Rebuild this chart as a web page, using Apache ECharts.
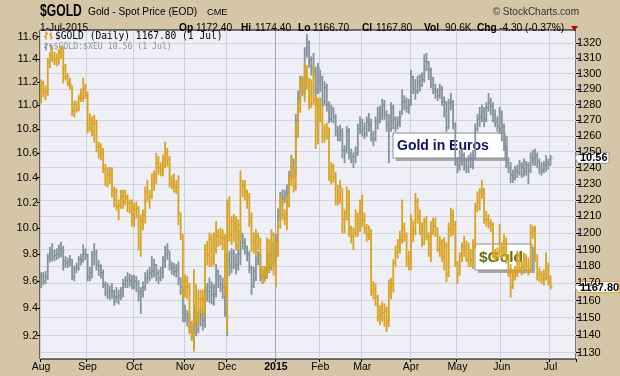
<!DOCTYPE html>
<html>
<head>
<meta charset="utf-8">
<script src="https://cdn.jsdelivr.net/npm/echarts@6/dist/echarts.min.js"></script>
<style>
  html, body { margin: 0; padding: 0; background: #D6C6A8; }
  #chart { width: 620px; height: 376px; }
</style>
</head>
<body>
<div id="chart"></div>
<script>
// trading days Aug 1 2014 .. Jul 1 2015 (weekdays minus US holidays)
const holidays = ["2014-09-01", "2014-11-27", "2014-12-25", "2015-01-01", "2015-01-19", "2015-02-16", "2015-04-03", "2015-05-25"];
const monthNames = ["Jan", "Feb", "Mar", "Apr", "May", "Jun", "Jul", "Aug", "Sep", "Oct", "Nov", "Dec"];

// $GOLD daily high / low / close (USD)
const goldHigh = [
  1296,1295,1292,1310,1314,1318,1314,1313,1316,1318,1317,1306,1300,1297,1292,1282,1282,1286,1290,1297,1293,
  1288,1274,1272,1273,1270,1256,1255,1252,1242,1240,1240,1240,1228,1227,1220,1226,1226,1226,1223,1220,1220,
  1218,1219,1216,1211,1214,1228,1232,1226,1236,1238,1249,1247,1243,1248,1256,1252,1247,1235,1236,1232,1235,1212,1199,
  1175,1174,1170,1148,1178,1169,1166,1166,1166,1193,1195,1200,1199,1200,1207,1202,1203,1202,1199,
  1220,1222,1210,1211,1210,1208,1238,1232,1232,1226,1224,1212,1200,1202,1200,1197,1180,1180,1197,1196,1202,1200,
  1195,1207,1223,1220,1214,1223,1235,1247,1240,1267,1282,1296,1298,1307,1305,1297,1296,1305,1285,1284,
  1284,1278,1267,1268,1265,1243,1242,1237,1229,1232,1227,1214,1228,1226,1204,1203,1214,1212,1220,
  1223,1212,1205,1204,1202,1171,1170,1163,1157,1159,1158,1156,1172,1173,1184,1192,1196,1201,1220,1206,1200,1189,
  1211,1207,1224,1221,1214,1206,1209,1210,1200,1207,1209,1209,1203,1198,1196,1197,1194,1206,1215,1214,1207,
  1183,1188,1194,1198,1195,1194,1190,1196,1218,1225,1227,1232,1227,1213,1211,1208,1206,1190,1191,1205,
  1194,1199,1197,1187,1181,1177,1180,1189,1188,1183,1188,1187,1185,1205,1204,1204,1187,1179,1177,1178,1188,1182,
  1174.4
];
const goldLow = [
  1281,1285,1283,1286,1304,1308,1306,1305,1306,1310,1294,1296,1292,1290,1273,1272,1275,1276,1282,1282,1284,
  1262,1263,1260,1256,1250,1246,1245,1237,1229,1228,1230,1222,1216,1214,1208,1215,1215,1217,1213,1212,1204,
  1204,1209,1190,1186,1202,1206,1219,1215,1221,1226,1230,1236,1235,1235,1240,1241,1228,1227,1225,1224,1205,1196,1161,
  1162,1161,1141,1137,1131,1147,1146,1153,1150,1153,1181,1180,1180,1181,1188,1192,1193,1190,1163,
  1142,1195,1193,1195,1190,1190,1195,1222,1220,1215,1204,1189,1188,1186,1190,1175,1170,1171,1173,1177,1180,1175,
  1168,1186,1203,1208,1205,1202,1216,1229,1225,1226,1259,1275,1287,1282,1290,1277,1278,1280,1252,1255,
  1269,1256,1256,1258,1232,1230,1231,1217,1217,1218,1200,1200,1208,1198,1194,1190,1198,1198,1201,
  1204,1200,1195,1196,1163,1161,1157,1148,1146,1148,1145,1142,1145,1161,1165,1180,1185,1188,1194,1195,1180,1178,
  1178,1195,1199,1206,1199,1192,1193,1196,1186,1183,1199,1198,1189,1186,1183,1178,1171,1174,1198,1199,1180,
  1170,1175,1183,1186,1183,1180,1180,1179,1191,1213,1214,1221,1206,1204,1203,1201,1185,1183,1185,1186,
  1185,1186,1182,1174,1162,1167,1172,1174,1177,1175,1176,1178,1175,1177,1197,1183,1172,1171,1170,1169,1172,1169,
  1166.7
];
const goldClose = [
  1294,1288,1288,1307,1312,1310,1309,1310,1314,1315,1305,1298,1294,1293,1276,1280,1277,1284,1284,1290,1286,
  1265,1270,1263,1268,1253,1253,1249,1239,1231,1235,1236,1226,1225,1216,1217,1222,1219,1222,1218,1218,1211,
  1214,1215,1192,1207,1211,1225,1222,1222,1230,1234,1243,1240,1238,1245,1249,1245,1230,1231,1228,1228,1212,1198,1171,
  1168,1168,1145,1142,1169,1150,1161,1161,1161,1187,1187,1197,1185,1190,1198,1198,1197,1197,1167,
  1217,1199,1207,1206,1192,1205,1232,1229,1225,1222,1207,1195,1194,1198,1195,1178,1175,1173,1195,1181,1199,1184,
  1186,1204,1219,1211,1209,1216,1233,1234,1229,1264,1277,1294,1294,1301,1293,1280,1292,1283,1260,1279,
  1274,1260,1263,1265,1234,1241,1234,1220,1223,1228,1208,1212,1225,1203,1198,1200,1210,1206,1213,
  1208,1203,1199,1199,1165,1167,1162,1151,1152,1153,1154,1148,1167,1169,1182,1188,1192,1196,1203,1198,1185,1183,
  1208,1201,1219,1210,1203,1194,1207,1198,1193,1200,1204,1203,1190,1194,1186,1193,1175,1202,1211,1205,1182,
  1175,1186,1192,1192,1184,1188,1184,1192,1216,1219,1225,1226,1208,1208,1206,1205,1187,1186,1188,1189,
  1191,1194,1184,1176,1168,1174,1176,1186,1179,1180,1185,1180,1178,1200,1201,1185,1176,1175,1172,1173,1179,1171,
  1167.8
];

// $GOLD:$XEU (gold in euros) daily high / low / close
const eurHigh = [
  9.66,9.66,9.67,9.80,9.85,9.88,9.83,9.84,9.87,9.89,9.86,9.78,9.77,9.79,9.76,9.71,9.73,9.78,9.80,9.87,9.84,
  9.80,9.70,9.82,9.88,9.83,9.75,9.72,9.68,9.59,9.58,9.56,9.58,9.53,9.55,9.53,9.55,9.61,9.63,9.66,9.65,9.64,
  9.64,9.63,9.60,9.55,9.59,9.66,9.68,9.70,9.78,9.76,9.72,9.68,9.70,9.78,9.86,9.88,9.82,9.74,9.73,9.72,9.74,9.62,9.55,
  9.42,9.38,9.36,9.28,9.42,9.38,9.37,9.40,9.38,9.55,9.58,9.62,9.59,9.57,9.72,9.68,9.64,9.62,9.56,
  9.80,9.82,9.84,9.83,9.80,9.83,9.98,9.96,9.92,9.86,9.82,9.71,9.70,9.78,9.82,9.80,9.68,9.70,9.82,9.80,9.89,9.90,
  9.95,10.15,10.28,10.30,10.30,10.34,10.45,10.58,10.55,10.92,11.12,11.25,11.24,11.50,11.62,11.56,11.42,11.45,11.33,11.36,
  11.30,11.25,11.20,11.18,11.03,11.00,10.98,10.92,10.82,10.83,10.80,10.66,10.82,10.80,10.63,10.60,10.65,10.84,10.90,
  10.88,10.85,10.90,10.93,10.88,10.78,10.90,10.98,10.99,11.05,11.04,10.95,10.92,11.02,11.00,10.90,10.90,10.95,11.13,11.08,11.06,11.05,
  11.30,11.25,11.22,11.25,11.26,11.28,11.44,11.45,11.38,11.32,11.24,11.18,11.14,11.18,11.16,11.07,11.03,11.05,11.10,11.04,10.85,
  10.56,10.62,10.63,10.60,10.55,10.58,10.60,10.62,10.84,10.92,10.98,11.00,10.98,11.02,11.10,11.06,11.02,10.96,10.90,10.98,
  10.95,10.84,10.66,10.56,10.52,10.46,10.49,10.50,10.54,10.52,10.55,10.53,10.52,10.60,10.62,10.63,10.60,10.55,10.52,10.53,10.58,10.55,
  10.58
];
const eurLow = [
  9.55,9.57,9.58,9.61,9.74,9.75,9.75,9.76,9.77,9.78,9.68,9.70,9.70,9.71,9.61,9.60,9.66,9.68,9.72,9.74,9.76,
  9.60,9.60,9.62,9.72,9.68,9.64,9.62,9.55,9.49,9.47,9.46,9.47,9.42,9.44,9.43,9.46,9.48,9.55,9.55,9.56,9.54,
  9.54,9.52,9.45,9.36,9.48,9.53,9.58,9.60,9.62,9.63,9.60,9.58,9.60,9.62,9.70,9.76,9.68,9.65,9.64,9.63,9.57,9.50,9.30,
  9.30,9.27,9.22,9.17,9.12,9.20,9.22,9.27,9.24,9.26,9.45,9.44,9.43,9.42,9.48,9.55,9.52,9.47,9.34,
  9.20,9.64,9.66,9.69,9.65,9.68,9.72,9.84,9.80,9.75,9.66,9.50,9.55,9.60,9.72,9.60,9.58,9.61,9.62,9.66,9.68,9.72,
  9.75,9.90,10.08,10.18,10.20,10.17,10.27,10.40,10.40,10.42,10.85,11.02,11.08,11.10,11.42,11.33,11.26,11.24,11.00,11.10,
  11.12,10.98,11.00,10.95,10.85,10.86,10.85,10.74,10.70,10.70,10.56,10.52,10.60,10.55,10.52,10.48,10.52,10.58,10.76,
  10.74,10.72,10.74,10.78,10.70,10.66,10.70,10.80,10.85,10.88,10.88,10.78,10.52,10.78,10.80,10.78,10.80,10.82,10.92,10.96,10.94,10.93,
  11.00,11.10,11.05,11.10,11.12,11.16,11.20,11.30,11.22,11.15,11.10,11.06,11.04,11.06,11.00,10.90,10.78,10.80,10.96,10.80,10.50,
  10.44,10.46,10.50,10.46,10.44,10.44,10.48,10.47,10.56,10.78,10.82,10.86,10.82,10.86,10.95,10.92,10.86,10.82,10.78,10.76,
  10.70,10.62,10.48,10.44,10.36,10.36,10.38,10.40,10.42,10.40,10.41,10.42,10.35,10.44,10.50,10.50,10.48,10.43,10.42,10.44,10.45,10.47,
  10.50
];
const eurClose = [
  9.64,9.60,9.63,9.78,9.81,9.78,9.79,9.80,9.84,9.82,9.75,9.73,9.74,9.76,9.63,9.69,9.70,9.76,9.75,9.80,9.79,
  9.63,9.66,9.76,9.80,9.71,9.71,9.66,9.57,9.51,9.53,9.52,9.52,9.48,9.48,9.49,9.50,9.58,9.60,9.62,9.60,9.59,
  9.60,9.58,9.52,9.50,9.55,9.62,9.63,9.66,9.67,9.72,9.66,9.62,9.66,9.75,9.80,9.83,9.72,9.70,9.67,9.68,9.62,9.55,9.37,
  9.35,9.31,9.26,9.23,9.37,9.24,9.33,9.35,9.31,9.52,9.52,9.55,9.50,9.50,9.67,9.63,9.57,9.55,9.37,
  9.76,9.71,9.80,9.72,9.72,9.80,9.93,9.89,9.86,9.80,9.70,9.56,9.67,9.75,9.79,9.63,9.64,9.63,9.79,9.70,9.86,9.79,
  9.90,10.10,10.25,10.23,10.26,10.27,10.42,10.48,10.45,10.87,11.05,11.20,11.12,11.45,11.54,11.39,11.32,11.30,11.14,11.32,
  11.24,11.03,11.15,11.00,10.88,10.96,10.90,10.78,10.76,10.78,10.62,10.62,10.78,10.60,10.57,10.57,10.60,10.80,10.85,
  10.80,10.76,10.86,10.83,10.72,10.72,10.85,10.93,10.91,11.00,10.92,10.83,10.80,10.98,10.88,10.83,10.85,10.90,11.03,11.03,10.98,11.00,
  11.24,11.14,11.12,11.20,11.17,11.22,11.38,11.37,11.30,11.22,11.14,11.12,11.08,11.14,11.03,11.02,10.81,11.02,11.03,10.84,10.53,
  10.50,10.56,10.58,10.50,10.48,10.55,10.56,10.55,10.80,10.88,10.90,10.95,10.88,10.98,11.02,11.00,10.92,10.86,10.82,10.80,
  10.82,10.68,10.52,10.48,10.42,10.40,10.45,10.44,10.50,10.48,10.45,10.50,10.46,10.56,10.55,10.58,10.53,10.48,10.46,10.50,10.52,10.50,
  10.56
];

// axis ticks (both axes are logarithmic)
const eurTicks = [9.2, 9.4, 9.6, 9.8, 10.0, 10.2, 10.4, 10.6, 10.8, 11.0, 11.2, 11.4, 11.6];
const goldTicks = [1130, 1140, 1150, 1160, 1170, 1180, 1190, 1200, 1210, 1220, 1230, 1240, 1250, 1260, 1270, 1280, 1290, 1300, 1310, 1320];
const eurRange = [9.035, 11.66];
const goldRange = [1126.4, 1328.8];
const padDays = 11;

const days = [];
for (let d = new Date(Date.UTC(2014, 7, 1)); d <= new Date(Date.UTC(2015, 6, 1)); d.setUTCDate(d.getUTCDate() + 1)) {
  const wd = d.getUTCDay();
  const s = d.toISOString().slice(0, 10);
  if (wd === 0 || wd === 6 || holidays.includes(s)) continue;
  days.push(s);
}
const categories = days.concat(Array.from({ length: padDays }, (_, i) => "pad" + i));
const monthStart = new Set();
days.forEach((d, i) => {
  if (i === 0 || d.slice(0, 7) !== days[i - 1].slice(0, 7)) monthStart.add(i);
});
const isMonthStart = (index) => monthStart.has(index);

const toBars = (lo, hi, cl) =>
  days.map((d, i) => [i, Math.log(lo[i]), Math.log(hi[i]), Math.log(cl[i])]);

const ohlcRenderer = (color) => (params, api) => {
  const i = api.value(0);
  const lo = api.coord([i, api.value(1)]);
  const hi = api.coord([i, api.value(2)]);
  const cl = api.coord([i, api.value(3)]);
  return {
    type: "group",
    children: [
      { type: "line", shape: { x1: lo[0], y1: lo[1] + 0.5, x2: hi[0], y2: hi[1] - 0.5 }, style: { stroke: color, lineWidth: 1.8 } },
      { type: "line", shape: { x1: cl[0], y1: cl[1], x2: cl[0] + 2, y2: cl[1] }, style: { stroke: color, lineWidth: 1.3 } }
    ]
  };
};

const goldColor = "#D9A21F";
const eurColor = "#84939B";
const sans = "Liberation Sans, Arial, sans-serif";
const mono = "DejaVu Sans Mono, monospace";

// vertical grid colours per month line, Jan (2015) darker
const vColors = ["#CFCFD8", "#CFCFD8", "#CFCFD8", "#CFCFD8", "#CFCFD8", "#A9A9AF", "#CFCFD8", "#CFCFD8", "#CFCFD8", "#CFCFD8", "#CFCFD8", "#CFCFD8", "#CFCFD8"];

const option = {
  animation: false,
  backgroundColor: "#D6C6A8",
  grid: {
    left: 40, right: 44, top: 30, bottom: 17,
    show: true, backgroundColor: "#EEEFF7", borderColor: "#000", borderWidth: 1
  },
  xAxis: {
    type: "category",
    data: categories,
    boundaryGap: true,
    axisLine: { show: false },
    axisTick: { show: true, interval: isMonthStart, length: 3, lineStyle: { color: "#000" } },
    axisLabel: {
      interval: isMonthStart,
      margin: 3,
      color: "#000",
      fontSize: 10.5,
      fontFamily: sans,
      formatter: (v) => {
        const m = Number(v.slice(5, 7)) - 1;
        return m === 0 ? "{b|2015}" : monthNames[m];
      },
      rich: { b: { fontWeight: "bold", fontSize: 10.5, fontFamily: sans, color: "#000" } }
    },
    splitLine: { show: true, interval: isMonthStart, lineStyle: { color: vColors, width: 1 } }
  },
  yAxis: [
    {
      type: "value",
      position: "left",
      min: Math.log(eurRange[0]),
      max: Math.log(eurRange[1]),
      axisLine: { show: false },
      axisTick: { show: true, customValues: eurTicks.map(Math.log), length: 3, lineStyle: { color: "#000" } },
      axisLabel: {
        customValues: eurTicks.map(Math.log),
        formatter: (v) => Math.exp(v).toFixed(1),
        margin: 2, color: "#000", fontSize: 11, fontFamily: sans
      },
      splitLine: { show: false }
    },
    {
      type: "value",
      position: "right",
      min: Math.log(goldRange[0]),
      max: Math.log(goldRange[1]),
      axisLine: { show: false },
      axisTick: { show: true, customValues: goldTicks.map(Math.log), length: 4, lineStyle: { color: "#000" } },
      axisLabel: {
        customValues: goldTicks.map(Math.log),
        formatter: (v) => String(Math.round(Math.exp(v))),
        margin: 1, color: "#000", fontSize: 11, fontFamily: sans
      },
      splitLine: { show: true, lineStyle: { color: "#D4D4DC", width: 1 } }
    }
  ],
  series: [
    {
      name: "$GOLD:$XEU",
      type: "custom",
      yAxisIndex: 0,
      clip: true,
      encode: { x: 0, y: [1, 2, 3] },
      renderItem: ohlcRenderer(eurColor),
      data: toBars(eurLow, eurHigh, eurClose),
      z: 2
    },
    {
      name: "$GOLD",
      type: "custom",
      yAxisIndex: 1,
      clip: true,
      encode: { x: 0, y: [1, 2, 3] },
      renderItem: ohlcRenderer(goldColor),
      data: toBars(goldLow, goldHigh, goldClose),
      z: 3
    }
  ]
};

const chart = echarts.init(document.getElementById("chart"));
chart.setOption(option);

const t = (x, y, text, size, extra, el) => Object.assign({
  type: "text", x, y, z: 100,
  style: Object.assign({
    text, fontSize: size, fontFamily: sans, fill: "#000",
    align: "left", textAlign: "left", verticalAlign: "middle", textVerticalAlign: "middle"
  }, extra || {})
}, el || {});

const icon = (x, y, color) => ({
  type: "group", x, y, z: 100,
  children: [
    { type: "line", shape: { x1: 2, y1: 0, x2: 2, y2: 8 }, style: { stroke: color, lineWidth: 1.5 } },
    { type: "line", shape: { x1: 0, y1: 5, x2: 2, y2: 5 }, style: { stroke: color, lineWidth: 1.5 } },
    { type: "line", shape: { x1: 2, y1: 2, x2: 4, y2: 2 }, style: { stroke: color, lineWidth: 1.5 } },
    { type: "line", shape: { x1: 7, y1: 1, x2: 7, y2: 8 }, style: { stroke: color, lineWidth: 1.5 } },
    { type: "line", shape: { x1: 5, y1: 3, x2: 7, y2: 3 }, style: { stroke: color, lineWidth: 1.5 } },
    { type: "line", shape: { x1: 7, y1: 6, x2: 9, y2: 6 }, style: { stroke: color, lineWidth: 1.5 } }
  ]
});

const tag = (y, label, border, width) => ({
  type: "group", x: 575, y, z: 120,
  children: [
    {
      type: "polygon",
      shape: { points: [[0, 0], [3, -5.5], [3 + width, -5.5], [3 + width, 5.5], [3, 5.5]] },
      style: { fill: "#fff", stroke: border, lineWidth: 1 }
    },
    {
      type: "text", x: 5, y: 0.5,
      style: { text: label, fontSize: 11, fontWeight: "bold", fontFamily: sans, fill: "#000",
        align: "left", textAlign: "left", verticalAlign: "middle", textVerticalAlign: "middle" }
    }
  ]
});

const note = (x, y, w, h, label, color, size) => ({
  type: "group", x, y, z: 110,
  children: [
    { type: "rect", shape: { x: 3, y: 3, width: w, height: h }, style: { fill: "#A9A9A9" } },
    { type: "rect", shape: { x: 0, y: 0, width: w, height: h }, style: { fill: "#fff", stroke: "#8C8C8C", lineWidth: 1 } },
    {
      type: "text", x: 4, y: h / 2 + 0.5,
      style: { text: label, fontSize: size, fontWeight: "bold", fontFamily: sans, fill: color,
        align: "left", textAlign: "left", verticalAlign: "middle", textVerticalAlign: "middle" }
    }
  ]
});

const lastEur = eurClose[eurClose.length - 1];
const lastGold = goldClose[goldClose.length - 1];
const yEur = chart.convertToPixel({ yAxisIndex: 0 }, Math.log(lastEur));
const yGold = chart.convertToPixel({ yAxisIndex: 1 }, Math.log(lastGold));

chart.setOption({
  graphic: [
    // header line 1
    t(40, 12, "$GOLD", 16, { fontWeight: "bold" }, { scaleX: 0.76 }),
    t(88, 12, "Gold - Spot Price (EOD)", 10.2),
    t(207, 12.5, "CME", 9.2),
    t(579, 12, "\u00A9 StockCharts.com", 10, { align: "right", textAlign: "right", fill: "#333" }),
    // header line 2
    t(40, 28, "1-Jul-2015", 10.2),
    t(179, 28, "Op", 10.2, { fontWeight: "bold" }),
    t(196, 28, "1172.40", 10.2),
    t(241, 28, "Hi", 10.2, { fontWeight: "bold" }),
    t(255, 28, "1174.40", 10.2),
    t(298, 28, "Lo", 10.2, { fontWeight: "bold" }),
    t(313, 28, "1166.70", 10.2),
    t(362, 28, "Cl", 10.2, { fontWeight: "bold" }),
    t(376, 28, "1167.80", 10.2),
    t(424, 28, "Vol", 10.2, { fontWeight: "bold" }),
    t(445, 28, "90.6K", 10.2),
    t(477, 28, "Chg", 10.2, { fontWeight: "bold" }),
    t(499, 28, "-4.30 (-0.37%)", 10.2),
    { type: "polygon", z: 100, shape: { points: [[571, 26], [578, 26], [574.5, 31]] }, style: { fill: "#C00000" } },
    // legend inside plot
    icon(44, 31.5, goldColor),
    t(55, 36, "$GOLD (Daily) 1167.80 (1 Jul)", 9.6, { fontFamily: mono }),
    icon(44, 42.5, eurColor),
    t(53.5, 46.5, "$GOLD:$XEU 10.56 (1 Jul)", 8.2, { fontFamily: mono, fill: "#8A949A" }),
    // annotations
    note(393, 133, 112, 25, "Gold in Euros", "#0E0E6B", 14),
    note(475, 244, 57, 26, "$Gold", "#6B6B0E", 15.5),
    // last value tags
    tag(yEur, lastEur.toFixed(2), "#8A969E", 31),
    tag(yGold, lastGold.toFixed(2), goldColor, 41)
  ]
});
</script>
</body>
</html>
